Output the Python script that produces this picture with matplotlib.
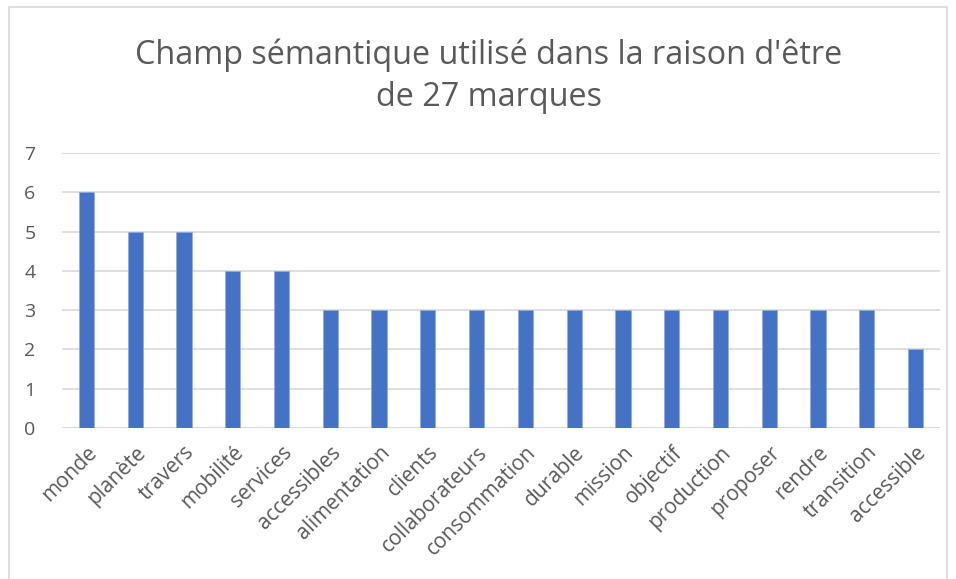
import matplotlib
matplotlib.use("Agg")
import matplotlib.pyplot as plt
import matplotlib.patches as mpatches

BLUE = "#4472C4"
TEXT = "#595959"
GRID = "#D9D9D9"

mots = ["monde", "planète", "travers", "mobilité", "services", "accessibles",
        "alimentation", "clients", "collaborateurs", "consommation", "durable",
        "mission", "objectif", "production", "proposer", "rendre", "transition",
        "accessible"]
occurrences = [6, 5, 5, 4, 4, 3, 3, 3, 3, 3, 3, 3, 3, 3, 3, 3, 3, 2]
graduations = [0, 1, 2, 3, 4, 5, 6, 7]

plt.rcParams["font.family"] = ["Open Sans", "DejaVu Sans"]

fig = plt.figure(figsize=(9.56, 5.79), dpi=100)
fig.patch.set_facecolor("white")

# cadre du graphique
fig.patches.append(mpatches.Rectangle((9 / 956, -0.01), 938 / 956, 1 - 7 / 579 + 0.01,
                                      transform=fig.transFigure, fill=False,
                                      edgecolor=GRID, linewidth=1.2))

ax = fig.add_axes([62 / 956, 1 - 428 / 579, 878 / 956, 275 / 579])
x = range(len(mots))
ax.bar(x, occurrences, width=0.31, color=BLUE, edgecolor="#8FAADC",
       linewidth=0.5, zorder=3)

ax.set_xlim(-0.5, len(mots) - 0.5)
ax.set_ylim(0, 7)
ax.set_yticks(graduations)
ax.set_yticklabels([str(g) for g in graduations], fontsize=14, color=TEXT)
ax.set_xticks(list(x))
ax.set_xticklabels(mots, rotation=45, ha="right", rotation_mode="anchor",
                   fontsize=15, color=TEXT)
ax.tick_params(axis="both", length=0)
ax.tick_params(axis="y", pad=19)
ax.tick_params(axis="x", pad=10)
ax.grid(axis="y", color=GRID, linewidth=1.2, zorder=0)
for s in ax.spines.values():
    s.set_visible(False)
ax.axhline(0, color=GRID, linewidth=1.2, zorder=2)

fig.text(489 / 956, 1 - 55 / 579, "Champ sémantique utilisé dans la raison d'être",
         ha="center", va="center", fontsize=23.3, color=TEXT)
fig.text(489 / 956, 1 - 98 / 579, "de 27 marques",
         ha="center", va="center", fontsize=23.3, color=TEXT)

fig.savefig("out.png", dpi=100, facecolor="white")
